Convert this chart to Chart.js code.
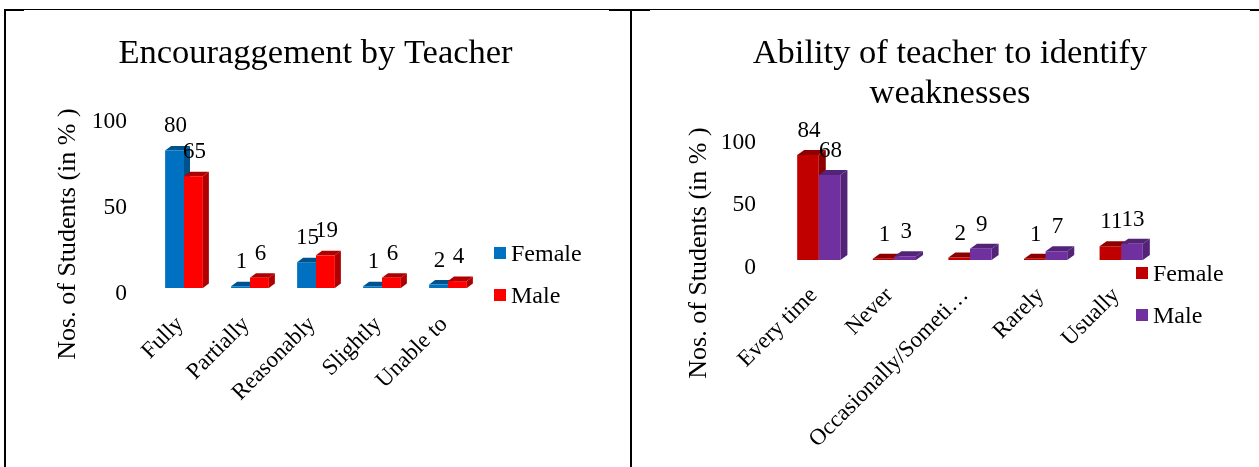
<!DOCTYPE html>
<html>
<head>
<meta charset="utf-8">
<title>Teacher charts</title>
<script src="https://cdn.jsdelivr.net/npm/chart.js@4"></script>
<style>
    html, body { margin: 0; padding: 0; background: #fff; overflow: hidden; }
    #page { position: relative; width: 1259px; height: 467px; }
    canvas { position: absolute; top: 0; }
    #leftChart { left: 0; }
    #rightChart { left: 631px; }
    .rule { position: absolute; background: #000; }
</style>
</head>
<body>
<div id="page">
    <canvas id="leftChart" width="631" height="467"></canvas>
    <canvas id="rightChart" width="628" height="467"></canvas>
    <div class="rule" style="left:4px;top:9px;width:1255px;height:1px"></div>
    <div class="rule" style="left:4px;top:9px;width:2px;height:458px"></div>
    <div class="rule" style="left:630px;top:9px;width:2px;height:458px"></div>
    <div class="rule" style="left:4px;top:9px;width:20px;height:2px"></div>
    <div class="rule" style="left:609px;top:9px;width:41px;height:2px"></div>
    <div class="rule" style="left:1250px;top:9px;width:9px;height:2px"></div>
</div>
<script>
// Encouragement chart
const encourageCategories = ['Fully', 'Partially', 'Reasonably', 'Slightly', 'Unable to'];
const encourageFemale = [80, 1, 15, 1, 2];
const encourageMale = [65, 6, 19, 6, 4];

// Weakness chart
const weaknessCategories = ['Every time', 'Never', 'Occasionally/Someti\u2026', 'Rarely', 'Usually'];
const weaknessFemale = [84, 1, 2, 1, 11];
const weaknessMale = [68, 3, 9, 7, 13];

const axisTicks = [0, 50, 100];
const fontName = "'Liberation Serif'";

// Side and top faces, painted before the library draws the front of the bars
const depthPlugin = {
    id: 'depth',
    beforeDatasetsDraw(chart, args, opts) {
        const ctx = chart.ctx;
        chart.data.datasets.forEach((ds, i) => {
            chart.getDatasetMeta(i).data.forEach(bar => {
                const left = bar.x - bar.width / 2;
                const right = bar.x + bar.width / 2;
                ctx.fillStyle = opts.sideColors[i];
                ctx.beginPath();
                ctx.moveTo(right, bar.y);
                ctx.lineTo(right + opts.dx, bar.y - opts.dy);
                ctx.lineTo(right + opts.dx, bar.base - opts.dy);
                ctx.lineTo(right, bar.base);
                ctx.fill();
                ctx.beginPath();
                ctx.moveTo(left, bar.y);
                ctx.lineTo(left + opts.dx, bar.y - opts.dy);
                ctx.lineTo(right + opts.dx, bar.y - opts.dy);
                ctx.lineTo(right, bar.y);
                ctx.fill();
            });
        });
    }
};

// Value labels above each bar
const valueLabelPlugin = {
    id: 'valueLabels',
    afterDatasetsDraw(chart, args, opts) {
        const ctx = chart.ctx;
        ctx.save();
        ctx.font = '23px ' + fontName;
        ctx.fillStyle = '#000';
        ctx.textAlign = 'center';
        ctx.textBaseline = 'middle';
        chart.data.datasets.forEach((ds, i) => {
            chart.getDatasetMeta(i).data.forEach((bar, j) => {
                ctx.fillText(ds.data[j], bar.x + 1, bar.y - opts.lift);
            });
        });
        ctx.restore();
    }
};

// Axis title and legend sit off the plot centre, so they are placed by hand
const sideTextPlugin = {
    id: 'sideText',
    afterDraw(chart, args, opts) {
        const ctx = chart.ctx;
        ctx.save();
        ctx.fillStyle = '#000';
        ctx.textBaseline = 'middle';
        ctx.font = '26px ' + fontName;
        ctx.save();
        ctx.translate(opts.titleX, opts.titleY);
        ctx.rotate(-Math.PI / 2);
        ctx.textAlign = 'center';
        ctx.fillText(opts.title, 0, 0);
        ctx.restore();
        ctx.font = '24px ' + fontName;
        chart.data.datasets.forEach((ds, i) => {
            const y = opts.legendY + i * opts.legendGap;
            ctx.fillStyle = ds.backgroundColor;
            ctx.fillRect(opts.legendX, y - 6, 12, 12);
            ctx.fillStyle = '#000';
            ctx.fillText(ds.label, opts.legendX + 17, y + 2);
        });
        ctx.restore();
    }
};

function buildChart(id, cfg) {
    new Chart(document.getElementById(id), {
        type: 'bar',
        data: {
            labels: cfg.categories,
            datasets: [
                { label: 'Female', data: cfg.female, yAxisID: 'y', backgroundColor: cfg.colors[0], borderWidth: 0, categoryPercentage: 0.572, barPercentage: 1 },
                { label: 'Male', data: cfg.male, yAxisID: 'y', backgroundColor: cfg.colors[1], borderWidth: 0, categoryPercentage: 0.572, barPercentage: 1 }
            ]
        },
        plugins: [depthPlugin, valueLabelPlugin, sideTextPlugin],
        options: {
            responsive: false,
            animation: false,
            layout: { padding: { left: cfg.paddingLeft, right: 0, top: 0, bottom: 0 } },
            scales: {
                x: {
                    grid: { display: false },
                    border: { display: false },
                    afterFit: s => {
                        s.height = cfg.xHeight;
                        s.paddingLeft = 0;
                        s.paddingRight = 0;
                    },
                    ticks: {
                        color: '#000',
                        font: { family: fontName, size: 23 },
                        autoSkip: false,
                        minRotation: 45,
                        maxRotation: 45,
                        padding: cfg.xPadding,
                        labelOffset: cfg.xLabelOffset
                    }
                },
                y: {
                    min: 0,
                    max: 100,
                    afterBuildTicks: s => { s.ticks = axisTicks.map(v => ({ value: v })); },
                    afterFit: s => { s.width = cfg.yWidth; },
                    grid: { display: false },
                    border: { display: false },
                    ticks: {
                        color: '#000',
                        font: { family: fontName, size: 23.5 },
                        padding: cfg.yPadding,
                        labelOffset: cfg.yLabelOffset
                    }
                },
                // empty axis, only holds the room right of the plot so the title stays centred
                spacer: {
                    position: 'right',
                    afterFit: s => { s.width = cfg.spacerWidth; },
                    grid: { display: false },
                    border: { display: false },
                    ticks: { display: false }
                }
            },
            plugins: {
                title: {
                    display: true,
                    text: cfg.title,
                    color: '#000',
                    font: { family: fontName, size: 34.5, weight: 'normal', lineHeight: 40 / 34.5 },
                    padding: { top: 34, bottom: cfg.titleBottom }
                },
                legend: { display: false },
                tooltip: { enabled: false },
                depth: { dx: cfg.dx, dy: cfg.dy, sideColors: cfg.sideColors },
                valueLabels: { lift: 24 },
                sideText: {
                    title: 'Nos. of Students (in % )',
                    titleX: 68,
                    titleY: cfg.axisTitleY,
                    legendX: cfg.legendX,
                    legendY: cfg.legendY,
                    legendGap: cfg.legendGap
                }
            }
        }
    });
}

buildChart('leftChart', {
    title: 'Encouraggement by Teacher',
    categories: encourageCategories,
    female: encourageFemale,
    male: encourageMale,
    colors: ['#0070C0', '#FF0000'],
    sideColors: ['#00528D', '#AE0000'],
    dx: 6, dy: 4.5,
    paddingLeft: 0,
    spacerWidth: 150,
    xHeight: 179,
    xPadding: 15,
    xLabelOffset: -4,
    yWidth: 151,
    yPadding: 16,
    yLabelOffset: 6,
    titleBottom: 42,
    axisTitleY: 234,
    legendX: 494,
    legendY: 253,
    legendGap: 42
});

buildChart('rightChart', {
    title: ['Ability of teacher to identify', 'weaknesses'],
    categories: weaknessCategories,
    female: weaknessFemale,
    male: weaknessMale,
    colors: ['#C00000', '#7030A0'],
    sideColors: ['#8C0000', '#522376'],
    dx: 7, dy: 5,
    paddingLeft: 10,
    spacerWidth: 100,
    xHeight: 207,
    xPadding: 14,
    xLabelOffset: -5,
    yWidth: 140,
    yPadding: 17,
    yLabelOffset: 7.5,
    titleBottom: 21,
    axisTitleY: 253,
    legendX: 505,
    legendY: 273,
    legendGap: 42
});
</script>
</body>
</html>
